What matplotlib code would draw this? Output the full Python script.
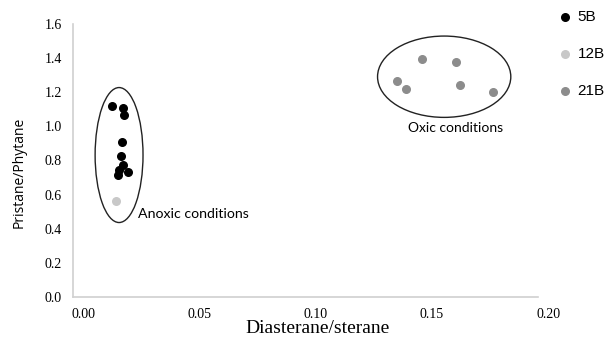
import matplotlib
matplotlib.use("Agg")
import matplotlib.pyplot as plt
from matplotlib.patches import Ellipse
from matplotlib.transforms import ScaledTranslation

# diasterane/sterane vs pristane/phytane per well
x_5b = [0.0166, 0.0214, 0.0219, 0.0212, 0.0206, 0.0216, 0.0199, 0.0235, 0.0192]
y_5b = [1.119, 1.106, 1.067, 0.907, 0.828, 0.774, 0.744, 0.734, 0.715]
x_12b = [0.0185]
y_12b = [0.564]
x_21b = [0.1502, 0.1646, 0.1395, 0.1431, 0.1665, 0.1808]
y_21b = [1.395, 1.377, 1.266, 1.219, 1.241, 1.203]

xticks = [0.00, 0.05, 0.10, 0.15, 0.20]
yticks = [0.0, 0.2, 0.4, 0.6, 0.8, 1.0, 1.2, 1.4, 1.6]

serif = "Liberation Serif"

fig = plt.figure(figsize=(6.06, 3.38), dpi=100)
ax = fig.add_axes([0.1205, 0.1213, 0.7675, 0.8077])

ax.scatter(x_5b, y_5b, s=30, c="black", label="5B", zorder=3)
ax.scatter(x_12b, y_12b, s=30, c="#c8c8c8", label="12B", zorder=3)
ax.scatter(x_21b, y_21b, s=30, c="#8c8c8c", label="21B", zorder=3)

# grouping ellipses
ax.add_patch(Ellipse((0.0198, 0.832), 0.0206, 0.791, fill=False, ec="#222222", lw=1.0))
ax.add_patch(Ellipse((0.1596, 1.291), 0.0573, 0.4766, fill=False, ec="#222222", lw=1.0))
ax.text(0.028, 0.4865, "Anoxic conditions", family="Lato", fontsize=10.2, va="center", ha="left")
ax.text(0.1643, 0.989, "Oxic conditions", family="Lato", fontsize=10, va="center", ha="center")

ax.set_xlim(0, 0.2)
ax.set_ylim(0, 1.6)
ax.set_xticks(xticks)
ax.set_xticklabels(["%.2f" % v for v in xticks], family=serif, fontsize=10)
ax.set_yticks(yticks)
ax.set_yticklabels(["%.1f" % v for v in yticks], family=serif, fontsize=10)
ax.tick_params(length=0, pad=8)
for lab in ax.get_xticklabels():
    lab.set_transform(lab.get_transform() + ScaledTranslation(0.1, 0, fig.dpi_scale_trans))

for side in ["top", "right"]:
    ax.spines[side].set_visible(False)
for side in ["left", "bottom"]:
    ax.spines[side].set_color("#d0d0d0")
    ax.spines[side].set_linewidth(1.2)

ax.set_xlabel("Diasterane/sterane", family=serif, fontsize=14)
ax.xaxis.set_label_coords(0.525, -0.085)
ax.set_ylabel("Pristane/Phytane", family="Open Sans", fontsize=10)
ax.yaxis.set_label_coords(-0.099, 0.458)

fig.legend(loc="upper left", bbox_to_anchor=(0.915, 0.978), frameon=False,
           prop={"family": "Liberation Sans", "size": 11}, handlelength=1.0,
           handletextpad=0.3, labelspacing=1.5, borderpad=0.2, borderaxespad=0)

fig.savefig("out.png", dpi=100)
